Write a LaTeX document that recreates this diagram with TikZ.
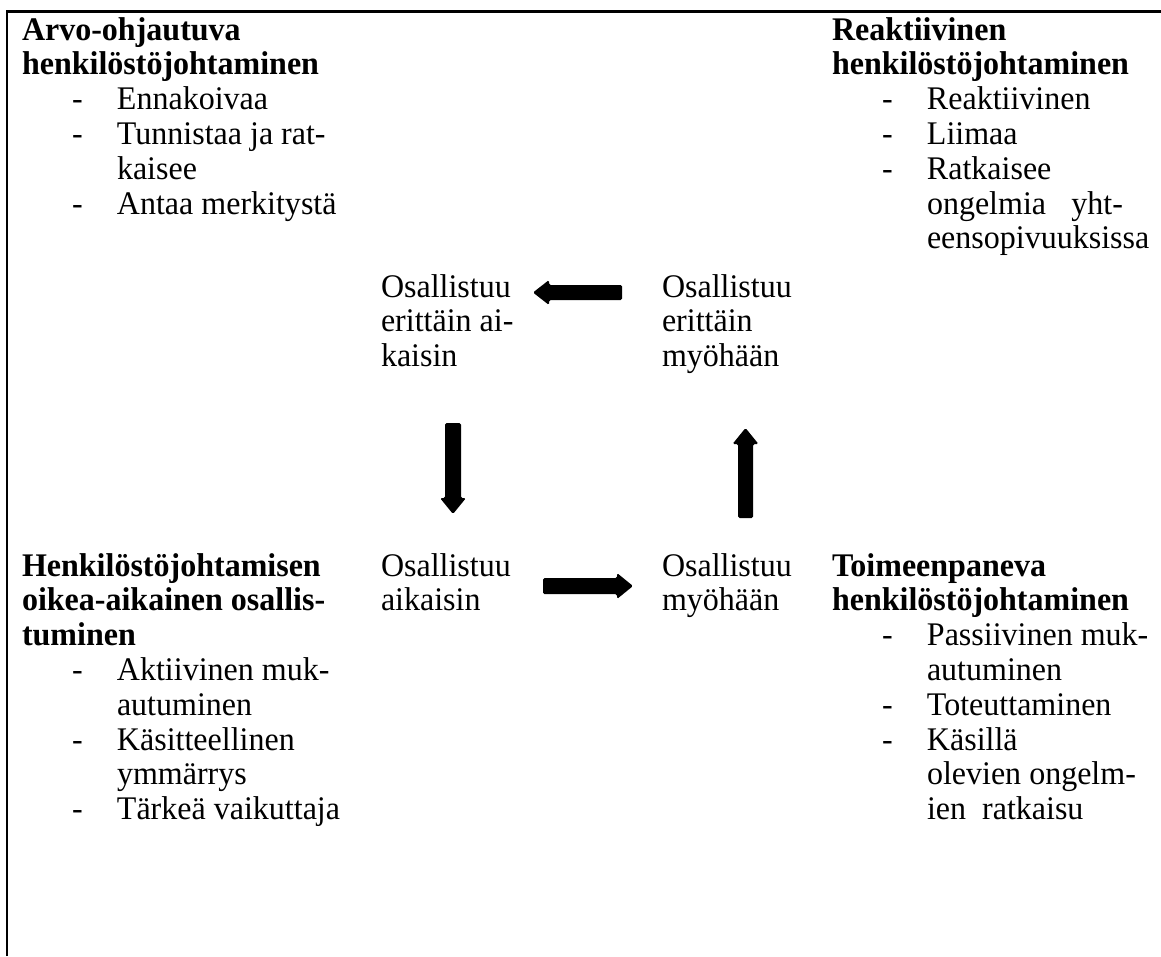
\documentclass[tikz,border=0pt]{standalone}
\usepackage{fontspec}
\setmainfont{Liberation Serif}[FakeStretch=0.97]
\usetikzlibrary{calc}
\newcommand\di{\hspace*{50pt}\makebox[45pt][l]{-}}
\newcommand\dc{\hspace*{95pt}}
\newcommand\lline[1]{\hbox{#1}}
\newcommand\blk[1]{\vtop{\baselineskip=34.8pt\lineskiplimit=-100pt\lineskip=0pt #1}}
\begin{document}
\begin{tikzpicture}[x=1pt,y=-1pt,
  txt/.style={anchor=base west, inner sep=0pt, outer sep=0pt, font=\fontsize{33}{34.8}\selectfont},
  fatarrow/.style={fill=black, rounded corners=1.5pt},
  frame/.style={line width=2.3pt}]
\useasboundingbox (0,0) rectangle (1161,956);
\draw[frame] (7,956) -- (7,11.5) -- (1161,11.5);

\node[txt] (arvo) at (22,40) {\blk{\lline{\bfseries Arvo-ohjautuva}\lline{\bfseries henkilöstöjohtaminen}\lline{\di Ennakoivaa}\lline{\di Tunnistaa ja rat-}\lline{\dc kaisee}\lline{\di Antaa merkitystä}}};

\node[txt] (reak) at (832,40) {\blk{\lline{\bfseries Reaktiivinen}\lline{\bfseries henkilöstöjohtaminen}\lline{\di Reaktiivinen}\lline{\di Liimaa}\lline{\di Ratkaisee}\lline{\dc\makebox[196pt][s]{ongelmia\hfill yht-}}\lline{\dc eensopivuuksissa}}};

\node[txt] (ea) at (381,297) {\blk{\lline{Osallistuu}\lline{erittäin ai-}\lline{kaisin}}};
\node[txt] (em) at (662,297) {\blk{\lline{Osallistuu}\lline{erittäin}\lline{myöhään}}};
\node[txt] (a) at (381,576) {\blk{\lline{Osallistuu}\lline{aikaisin}}};
\node[txt] (m) at (662,576) {\blk{\lline{Osallistuu}\lline{myöhään}}};

\node[txt] (oa) at (22,576) {\blk{\lline{\bfseries Henkilöstöjohtamisen}\lline{\bfseries oikea-aikainen osallis-}\lline{\bfseries tuminen}\lline{\di Aktiivinen muk-}\lline{\dc autuminen}\lline{\di Käsitteellinen}\lline{\dc ymmärrys}\lline{\di Tärkeä vaikuttaja}}};

\node[txt] (toim) at (832,576) {\blk{\lline{\bfseries Toimeenpaneva}\lline{\bfseries henkilöstöjohtaminen}\lline{\di Passiivinen muk-}\lline{\dc autuminen}\lline{\di Toteuttaminen}\lline{\di Käsillä}\lline{\dc olevien ongelm-}\lline{\dc ien\ \ ratkaisu}}};

% arrows
\coordinate (lT) at (622,292.5); \coordinate (lP) at (533,292.5);
\coordinate (rT) at (543,586);   \coordinate (rP) at (633,586);
\coordinate (dT) at (453,423);   \coordinate (dP) at (453,514);
\coordinate (uT) at (745.5,518); \coordinate (uP) at (745.5,428);

\fill[fatarrow] ($(lT)+(0,-7.5)$) -- ($(lP)+(16,-7.5)$) -- ($(lP)+(16,-12.5)$) -- (lP) -- ($(lP)+(16,12.5)$) -- ($(lP)+(16,7.5)$) -- ($(lT)+(0,7.5)$) -- cycle;
\fill[fatarrow] ($(rT)+(0,-8)$) -- ($(rP)+(-16,-8)$) -- ($(rP)+(-16,-13)$) -- (rP) -- ($(rP)+(-16,13)$) -- ($(rP)+(-16,8)$) -- ($(rT)+(0,8)$) -- cycle;
\fill[fatarrow] ($(dT)+(-8,0)$) -- ($(dP)+(-8,-16)$) -- ($(dP)+(-13,-16)$) -- (dP) -- ($(dP)+(13,-16)$) -- ($(dP)+(8,-16)$) -- ($(dT)+(8,0)$) -- cycle;
\fill[fatarrow] ($(uT)+(-7.5,0)$) -- ($(uP)+(-7.5,16)$) -- ($(uP)+(-13,16)$) -- (uP) -- ($(uP)+(13,16)$) -- ($(uP)+(7.5,16)$) -- ($(uT)+(7.5,0)$) -- cycle;
\end{tikzpicture}
\end{document}
